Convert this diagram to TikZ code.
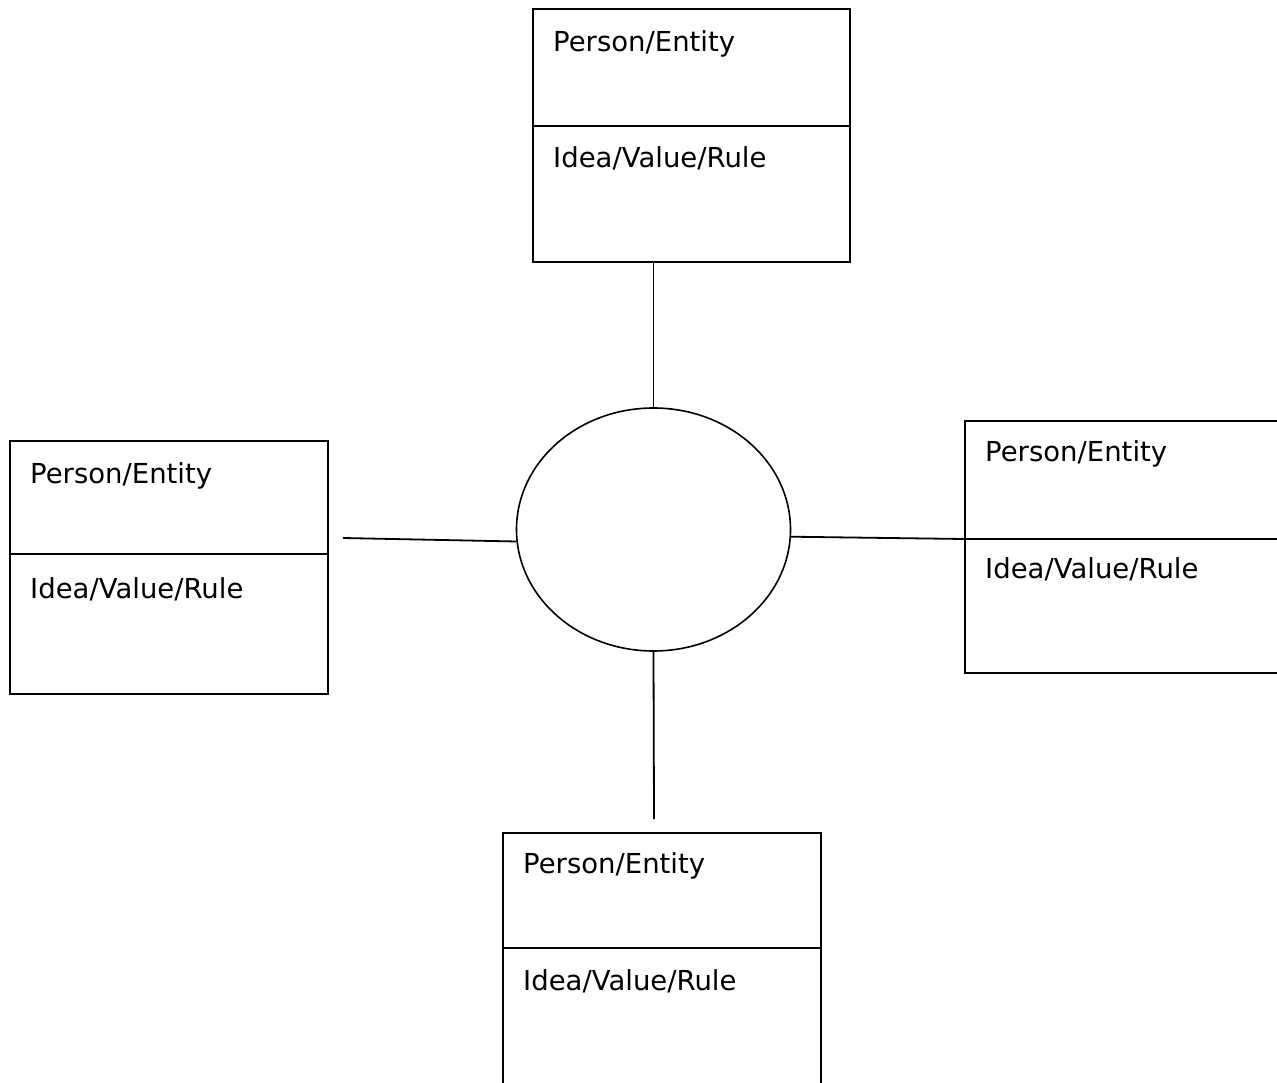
\documentclass[tikz,border=0pt]{standalone}
\usepackage{fontspec}
\setmainfont{DejaVu Sans}
\usetikzlibrary{shapes.geometric}
\begin{document}
\begin{tikzpicture}[x=1pt,y=-1pt,
  box/.style={draw,line width=1.8pt,anchor=north west,inner sep=0pt,minimum width=#1},
  lbl/.style={anchor=base west,inner sep=0pt,font=\fontsize{27.5}{32}\selectfont},
  conn/.style={line width=1.8pt}]
\useasboundingbox (0,0) rectangle (1277,1083);
\clip (0,0) rectangle (1277,1083);
% top box
\node[box=317pt,minimum height=253pt] (tb) at (532,8) {};
\draw[conn] (tb.west |- 0,126) -- (tb.east |- 0,126);
\node[lbl] (tbp) at (553,52) {Person/Entity};
\node[lbl] (tbi) at (553,168) {Idea/Value/Rule};
% left box
\node[box=318pt,minimum height=253pt] (lb) at (9,440) {};
\draw[conn] (lb.west |- 0,554) -- (lb.east |- 0,554);
\node[lbl] (lbp) at (30,483) {Person/Entity};
\node[lbl] (lbi) at (30,598) {Idea/Value/Rule};
% right box
\node[box=340pt,minimum height=252pt] (rb) at (964,420) {};
\coordinate (rbdiv) at (964,539);
\draw[conn] (rbdiv) -- (rb.east |- rbdiv);
\node[lbl] (rbp) at (985,461) {Person/Entity};
\node[lbl] (rbi) at (985,578) {Idea/Value/Rule};
% bottom box
\node[box=318pt,minimum height=280pt] (bb) at (502,832) {};
\draw[conn] (bb.west |- 0,948) -- (bb.east |- 0,948);
\node[lbl] (bbp) at (523,873) {Person/Entity};
\node[lbl] (bbi) at (523,990) {Idea/Value/Rule};
% ellipse
\node[draw,ellipse,line width=1.6pt,inner sep=0pt,minimum width=274pt,minimum height=243pt] (ell) at (653.5,529.5) {};
% connectors
\coordinate (lend) at (343,538);
\coordinate (bend) at (654,819);
\draw[conn] (ell.north) -- (ell.north |- tb.south);
\draw[conn] (ell.south) -- (bend);
\draw[conn] (lend) -- (ell.185.3);
\draw[conn] (ell.357.3) -- (rbdiv);
\end{tikzpicture}
\end{document}
